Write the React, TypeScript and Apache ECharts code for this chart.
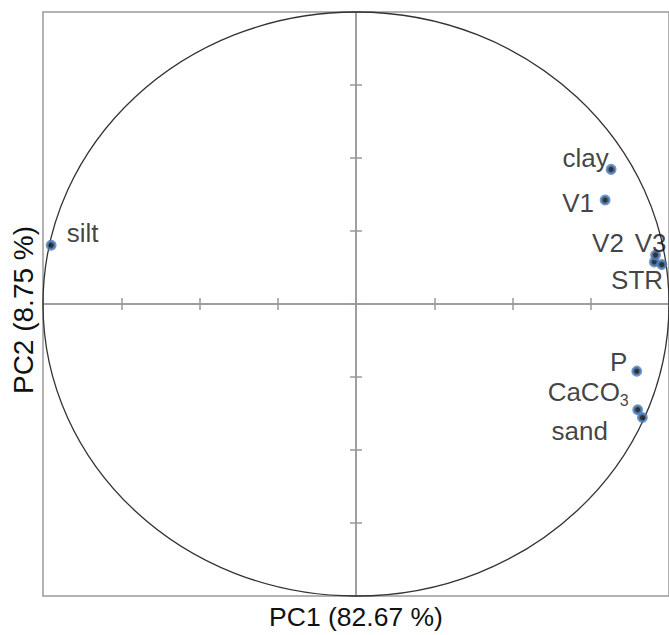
import React, { useEffect, useRef } from 'react';
import * as echarts from 'echarts';

// ---- data ----
const variables = ['clay', 'V1', 'V2', 'V3', 'STR', 'P', 'CaCO3', 'sand', 'silt'];
const pc1 = [0.815, 0.796, 0.953, 0.957, 0.977, 0.897, 0.9, 0.915, -0.974];
const pc2 = [0.461, 0.356, 0.144, 0.168, 0.135, -0.23, -0.362, -0.389, 0.201];
const xAxisTitle = 'PC1 (82.67 %)';
const yAxisTitle = 'PC2 (8.75 %)';
const circleRadius = [1];
const axisMin = -1;
const axisMax = 1;
const tickStep = 0.25;

// ---- label placement (offset of label centre from its point, px) ----
const labelOffsets: Record<string, [number, number]> = {
  clay: [-25.5, -11],
  V1: [-27, 2.8],
  V2: [-46.3, -18.7],
  V3: [-5, -12],
  STR: [-24.7, 15.2],
  P: [-18, -9],
  CaCO3: [-49.5, -17.5],
  sand: [-62.6, 13.4],
  silt: [31.5, -12],
};

const FONT = "'Liberation Sans', Arial, Helvetica, sans-serif";
const AXIS_COLOR = '#999';

export default function App() {
  const ref = useRef<HTMLDivElement>(null);

  useEffect(() => {
    if (!ref.current) return;
    const chart = echarts.init(ref.current, undefined, { renderer: 'svg' });

    const lineStyle = { color: AXIS_COLOR, width: 1.5 };
    const baseAxis = {
      type: 'value' as const,
      min: axisMin,
      max: axisMax,
      interval: tickStep,
      splitLine: { show: false },
      axisLabel: { show: false },
    };
    const tickAxis = (position: string) => ({
      ...baseAxis,
      position,
      axisLine: { show: true, onZero: true, onZeroAxisIndex: 0, lineStyle },
      axisTick: { show: true, inside: false, length: 6, lineStyle },
    });

    const points = variables.map((name, i) => {
      const off = labelOffsets[name] || [0, 0];
      const label: any = {
        show: true,
        position: 'inside',
        offset: off,
        color: '#111',
        fontSize: 26,
        fontFamily: FONT,
      };
      if (name === 'CaCO3') {
        label.formatter = '{a|CaCO}{s|3}';
        label.rich = {
          a: { fontSize: 26, lineHeight: 26, fontFamily: FONT, color: '#111', verticalAlign: 'top' },
          s: {
            fontSize: 16,
            lineHeight: 16,
            fontFamily: FONT,
            color: '#111',
            verticalAlign: 'top',
            padding: [13, 0, 0, 0],
          },
        };
      } else {
        label.formatter = '{b}';
      }
      return { name, value: [pc1[i], pc2[i]], label };
    });

    chart.setOption({
      animation: false,
      backgroundColor: '#fff',
      grid: {
        show: true,
        left: 43,
        top: 12,
        right: -1,
        bottom: 37,
        borderColor: AXIS_COLOR,
        borderWidth: 1.5,
        backgroundColor: 'transparent',
      },
      xAxis: [
        tickAxis('bottom'),
        tickAxis('top'),
        {
          ...baseAxis,
          position: 'bottom',
          axisLine: { show: false, onZero: false },
          axisTick: { show: false },
          name: xAxisTitle,
          nameLocation: 'middle',
          nameGap: 7,
          nameTextStyle: { fontSize: 26.5, fontFamily: FONT, color: '#111' },
        },
      ],
      yAxis: [
        tickAxis('left'),
        tickAxis('right'),
        {
          ...baseAxis,
          position: 'left',
          axisLine: { show: false, onZero: false },
          axisTick: { show: false },
          name: yAxisTitle,
          nameLocation: 'middle',
          nameGap: 6,
          nameTextStyle: { fontSize: 28, fontFamily: FONT, color: '#111', padding: [0, 12, 0, 0] },
        },
      ],
      series: [
        {
          type: 'custom',
          xAxisIndex: 0,
          yAxisIndex: 0,
          silent: true,
          z: 1,
          data: circleRadius.map((r) => [0, 0, r]),
          renderItem: (params: any, api: any) => {
            const c = api.coord([api.value(0), api.value(1)]);
            const r = api.value(2);
            const s = api.size([r, r]);
            return {
              type: 'ellipse',
              shape: { cx: c[0], cy: c[1], rx: s[0], ry: s[1] },
              style: { fill: 'none', stroke: '#333', lineWidth: 1.3 },
            };
          },
        },
        {
          type: 'scatter',
          xAxisIndex: 0,
          yAxisIndex: 0,
          z: 3,
          symbol: 'circle',
          symbolSize: 8,
          itemStyle: { color: '#000', borderColor: '#4f81bd', borderWidth: 3 },
          data: points,
        },
      ],
    });

    return () => chart.dispose();
  }, []);

  return (
    <div
      ref={ref}
      style={{ position: 'absolute', left: 0, top: 0, width: 669, height: 635, background: '#fff' }}
    />
  );
}
